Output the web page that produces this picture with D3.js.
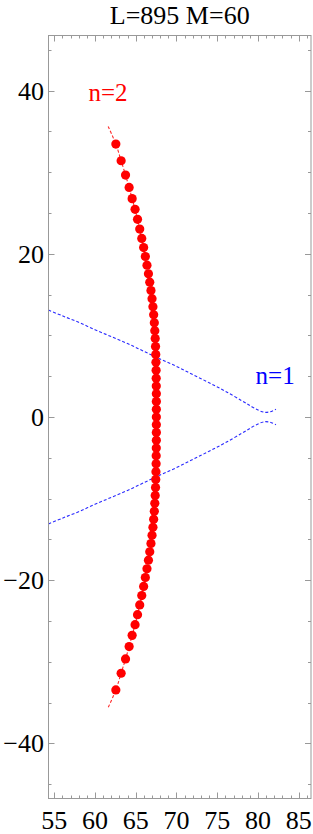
<!DOCTYPE html>
<html>
<head>
<meta charset="utf-8">
<script src="https://cdn.jsdelivr.net/npm/d3@7"></script>
<style>
  html, body { margin: 0; padding: 0; background: #fff; }
  svg { display: block; }
  text { font-family: "Liberation Serif", "Times New Roman", serif; }
</style>
</head>
<body>
<svg id="chart" width="313" height="834"></svg>
<script>
// ---------- data ----------
const title = "L=895 M=60";
const xTicks = [55, 60, 65, 70, 75, 80, 85];
const yTicks = [-40, -20, 0, 20, 40];
const xDomain = [54.3, 86.5];
const yDomain = [-46.75, 46.75];

// n=2 series (red dots)
const n2X = [62.56, 63.21, 63.75, 64.19, 64.56, 64.92, 65.22, 65.49, 65.74, 65.97,
             66.18, 66.38, 66.56, 66.72, 66.87, 67.00, 67.11, 67.20, 67.28, 67.34,
             67.39, 67.43, 67.46, 67.48, 67.50, 67.51, 67.52, 67.53, 67.53, 67.53,
             67.53,
             67.53, 67.53, 67.53, 67.52, 67.51, 67.50, 67.48, 67.46, 67.43, 67.39,
             67.34, 67.28, 67.20, 67.11, 67.00, 66.87, 66.72, 66.56, 66.38, 66.18,
             65.97, 65.74, 65.49, 65.22, 64.92, 64.56, 64.19, 63.75, 63.21, 62.56];
const n2Y = [33.45, 31.40, 29.65, 28.13, 26.76, 25.45, 24.22, 23.03, 21.88, 20.76,
             19.67, 18.60, 17.55, 16.52, 15.50, 14.50, 13.51, 12.53, 11.55, 10.58,
             9.61, 8.64, 7.67, 6.70, 5.73, 4.76, 3.80, 2.85, 1.90, 0.95,
             0,
             -0.95, -1.90, -2.85, -3.80, -4.76, -5.73, -6.70, -7.67, -8.64, -9.61,
             -10.58, -11.55, -12.53, -13.51, -14.50, -15.50, -16.52, -17.55, -18.60, -19.67,
             -20.76, -21.88, -23.03, -24.22, -25.45, -26.76, -28.13, -29.65, -31.40, -33.45];
// dashed continuation end points of the n=2 curve
const n2EndX = [61.62, 61.62];
const n2EndY = [35.6, -35.6];

// n=1 series (blue dashed, two branches)
const n1UpperX = [54.3, 56, 58, 60, 62, 64, 66, 68, 70, 72, 74, 76, 78, 79, 80, 80.8, 81.5, 82.2];
const n1UpperY = [13.1, 12.4, 11.6, 10.7, 9.85, 9.0, 8.05, 7.1, 6.2, 5.2, 4.2, 3.15, 2.0, 1.4, 0.85, 0.58, 0.65, 0.95];
const n1LowerX = [54.3, 56, 58, 60, 62, 64, 66, 68, 70, 72, 74, 76, 78, 79, 80, 80.8, 81.5, 82.2];
const n1LowerY = [-13.1, -12.4, -11.6, -10.7, -9.85, -9.0, -8.05, -7.1, -6.2, -5.2, -4.2, -3.15, -2.0, -1.4, -0.85, -0.58, -0.65, -0.95];

const labels = [
  {text: "n=2", x: 61.6, y: 39.8, color: "#ff0000"},
  {text: "n=1", x: 82.1, y: 5.1, color: "#0000ff"}
];

// ---------- layout ----------
const mLeft = 48.5, mRight = 311, mTop = 35.5, mBottom = 798.5;
const svg = d3.select("#chart");
const x = d3.scaleLinear().domain(xDomain).range([mLeft, mRight]);
const y = d3.scaleLinear().domain(yDomain).range([mBottom, mTop]);

svg.append("defs").append("clipPath").attr("id", "clip")
  .append("rect").attr("x", mLeft).attr("y", mTop)
  .attr("width", mRight - mLeft).attr("height", mBottom - mTop);

const plot = svg.append("g").attr("clip-path", "url(#clip)");

const line = d3.line().x(d => x(d[0])).y(d => y(d[1])).curve(d3.curveCatmullRom);

// blue branches
[[n1UpperX, n1UpperY], [n1LowerX, n1LowerY]].forEach(([xs, ys]) => {
  plot.append("path")
    .datum(xs.map((v, i) => [v, ys[i]]))
    .attr("d", line)
    .attr("fill", "none")
    .attr("stroke", "#2a2aff")
    .attr("stroke-width", 1.1)
    .attr("stroke-dasharray", "3,2");
});

// red dashed curve
const n2Pts = n2X.map((v, i) => [v, n2Y[i]]);
const n2Line = [[n2EndX[0], n2EndY[0]], ...n2Pts, [n2EndX[1], n2EndY[1]]];
plot.append("path")
  .datum(n2Line)
  .attr("d", line)
  .attr("fill", "none")
  .attr("stroke", "#ff2a2a")
  .attr("stroke-width", 1.1)
  .attr("stroke-dasharray", "3,2");

// red dots
plot.selectAll("circle.n2").data(n2Pts).enter().append("circle")
  .attr("class", "n2")
  .attr("cx", d => x(d[0]))
  .attr("cy", d => y(d[1]))
  .attr("r", 4.6)
  .attr("fill", "#ff0000");

// labels
labels.forEach(l => {
  svg.append("text")
    .attr("x", x(l.x)).attr("y", y(l.y))
    .attr("text-anchor", "middle")
    .attr("dominant-baseline", "central")
    .attr("fill", l.color)
    .attr("font-size", 25)
    .text(l.text);
});

// ---------- frame & ticks ----------
const frameColor = "#999999";
const axes = svg.append("g");

const xMinor = d3.range(Math.ceil(xDomain[0]), Math.floor(xDomain[1]) + 1);
xMinor.forEach(v => {
  const major = xTicks.includes(v);
  const len = major ? 6 : 3;
  const px = Math.round(x(v)) + 0.5;
  axes.append("line").attr("x1", px).attr("x2", px).attr("y1", mBottom).attr("y2", mBottom - len)
    .attr("stroke", frameColor).attr("stroke-width", 1);
  axes.append("line").attr("x1", px).attr("x2", px).attr("y1", mTop).attr("y2", mTop + len)
    .attr("stroke", frameColor).attr("stroke-width", 1);
});
const yMinor = d3.range(-45, 46, 5);
yMinor.forEach(v => {
  const major = yTicks.includes(v);
  const len = major ? 6 : 3;
  const py = Math.round(y(v)) + 0.5;
  axes.append("line").attr("x1", mLeft).attr("x2", mLeft + len).attr("y1", py).attr("y2", py)
    .attr("stroke", frameColor).attr("stroke-width", 1);
  axes.append("line").attr("x1", mRight).attr("x2", mRight - len).attr("y1", py).attr("y2", py)
    .attr("stroke", frameColor).attr("stroke-width", 1);
});

axes.append("rect")
  .attr("x", mLeft).attr("y", mTop)
  .attr("width", mRight - mLeft).attr("height", mBottom - mTop)
  .attr("fill", "none").attr("stroke", frameColor).attr("stroke-width", 1);

// tick labels
const fmt = v => (v < 0 ? "\u2212" + Math.abs(v) : String(v));
xTicks.forEach(v => {
  svg.append("text")
    .attr("x", x(v)).attr("y", 829)
    .attr("text-anchor", "middle")
    .attr("font-size", 26)
    .attr("fill", "#000")
    .text(fmt(v));
});
yTicks.forEach(v => {
  svg.append("text")
    .attr("x", 44).attr("y", y(v) + 9)
    .attr("text-anchor", "end")
    .attr("font-size", 26)
    .attr("fill", "#000")
    .text(fmt(v));
});

// title
svg.append("text")
  .attr("x", (mLeft + mRight) / 2).attr("y", 24)
  .attr("text-anchor", "middle")
  .attr("font-size", 26)
  .attr("fill", "#000")
  .text(title);
</script>
</body>
</html>
